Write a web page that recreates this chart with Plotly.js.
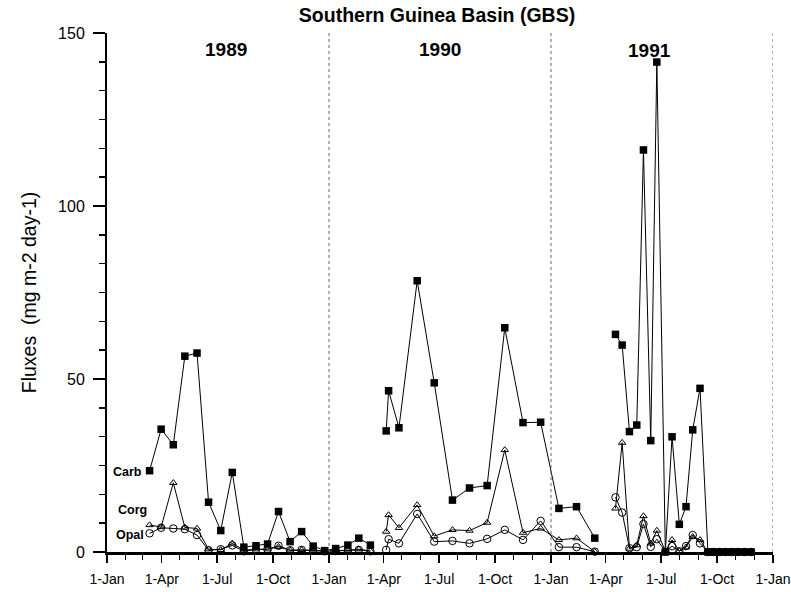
<!DOCTYPE html>
<html>
<head>
<meta charset="utf-8">
<script src="https://cdn.plot.ly/plotly-3.0.1.min.js"></script>
<style>html,body{margin:0;padding:0;background:#fff;}#chart{width:791px;height:592px;}</style>
</head>
<body>
<div id="chart"></div>
<script>
// Sampling dates (null rows break the line between deployments)
const dates = [
  '1989-03-12','1989-03-31','1989-04-20','1989-05-09','1989-05-29','1989-06-17','1989-07-07','1989-07-26',
  '1989-08-14','1989-09-03','1989-09-22','1989-10-10','1989-10-29','1989-11-17','1989-12-06','1989-12-25',
  '1990-01-12','1990-02-01','1990-02-19','1990-03-10',
  '1990-03-22',
  '1990-04-05','1990-04-09','1990-04-26','1990-05-26','1990-06-23','1990-07-23','1990-08-20','1990-09-18',
  '1990-10-17','1990-11-16','1990-12-15','1991-01-14','1991-02-12','1991-03-14',
  '1991-03-30',
  '1991-04-17','1991-04-28','1991-05-10','1991-05-22','1991-06-02','1991-06-14','1991-06-24','1991-07-08',
  '1991-07-19','1991-07-31','1991-08-11','1991-08-22','1991-09-03','1991-09-16','1991-09-25','1991-10-05',
  '1991-10-15','1991-10-25','1991-11-04','1991-11-15','1991-11-26'
];
const carb = [
  23.5,35.5,31,56.6,57.5,14.4,6.2,23,
  1.4,1.8,2.3,11.7,3.0,5.9,1.7,0.4,
  1.0,2.0,4.0,2.0,
  null,
  35,46.6,35.9,78.4,48.9,15,18.5,19.2,
  64.8,37.4,37.5,12.6,13.1,4.0,
  null,
  62.9,59.8,34.8,36.7,116.2,32.2,141.6,0,
  33.3,8.0,13.1,35.3,47.3,0,0,0,
  0,0,0,0,0
];
const corg = [
  7.8,7.2,20.0,7.1,6.8,0.8,0.6,2.5,
  0.5,0.8,0.8,1.5,0.5,0.6,0.5,0.3,
  0.3,0.5,0.8,0.3,
  null,
  5.9,10.7,7.0,13.6,4.6,6.4,6.2,8.5,
  29.5,5.6,6.8,3.5,4.0,0.1,
  null,
  12.6,31.6,1.0,2.0,10.4,2.5,6.2,0.2,
  3.5,0.3,1.4,4.4,3.5,0,0,0,
  0,0,0,0,0
];
const opal = [
  5.4,7.0,6.8,6.6,4.9,0.5,0.8,1.9,
  0.2,0.7,0.8,1.8,0.5,0.6,0.4,0.2,
  0.3,0.4,0.6,0.2,
  null,
  0.6,3.7,2.5,11.0,3.0,3.2,2.5,3.8,
  6.4,3.5,9.0,1.4,1.4,0.1,
  null,
  15.8,11.4,1.1,1.4,8.1,1.5,3.7,0.1,
  1.7,0.2,1.7,4.9,2.5,0,0,0,
  0,0,0,0,0
];
const seriesNames = ['Carb','Corg','Opal'];
const yearLabels = ['1989','1990','1991'];
const yearBounds = ['1990-01-01','1991-01-01','1992-01-01'];

const FONT = 'Arial, "Liberation Sans", sans-serif';
const line = {color:'#000', width:1};

const traces = [
  {x:dates, y:opal, name:seriesNames[2], mode:'lines+markers', line:line, cliponaxis:false,
   marker:{symbol:'circle-open', size:7.5, color:'#000', line:{width:1}}},
  {x:dates, y:corg, name:seriesNames[1], mode:'lines+markers', line:line, cliponaxis:false,
   marker:{symbol:'triangle-up-open', size:6.5, color:'#000', line:{width:1}}},
  {x:dates, y:carb, name:seriesNames[0], mode:'lines+markers', line:line, cliponaxis:false,
   marker:{symbol:'square', size:7.5, color:'#000'}}
];

const shapes = yearBounds.map(d => ({
  type:'line', xref:'x', yref:'paper', x0:d, x1:d, y0:0, y1:1,
  line:{color:'#666', width:1, dash:'dot'}
}));

const yearFont = {family:FONT, size:19, color:'#000'};
const lblFont = {family:FONT, size:12.5, color:'#000'};
const annotations = [
  {text:'<b>'+yearLabels[0]+'</b>', xref:'paper', yref:'paper', x:(226-107)/666, y:(552-50)/519, xanchor:'center', yanchor:'middle', showarrow:false, font:yearFont},
  {text:'<b>'+yearLabels[1]+'</b>', xref:'paper', yref:'paper', x:(440-107)/666, y:(552-50)/519, xanchor:'center', yanchor:'middle', showarrow:false, font:yearFont},
  {text:'<b>'+yearLabels[2]+'</b>', xref:'paper', yref:'paper', x:(649-107)/666, y:(552-51)/519, xanchor:'center', yanchor:'middle', showarrow:false, font:yearFont},
  {text:'<b>'+seriesNames[0]+'</b>', xref:'paper', yref:'paper', x:(127.5-107)/666, y:(552-472)/519, xanchor:'center', yanchor:'middle', showarrow:false, font:lblFont},
  {text:'<b>'+seriesNames[1]+'</b>', xref:'paper', yref:'paper', x:(132-107)/666, y:(552-510)/519, xanchor:'center', yanchor:'middle', showarrow:false, font:lblFont},
  {text:'<b>'+seriesNames[2]+'</b>', xref:'paper', yref:'paper', x:(129.5-107)/666, y:(552-535)/519, xanchor:'center', yanchor:'middle', showarrow:false, font:lblFont}
];

const layout = {
  width:791, height:592,
  margin:{l:107, r:18, t:33, b:40},
  paper_bgcolor:'#fff', plot_bgcolor:'#fff',
  showlegend:false,
  font:{family:FONT, color:'#000'},
  title:{text:'<b>Southern Guinea Basin (GBS)</b>', x:437/791, xanchor:'center', y:1-15/592, yanchor:'middle', yref:'container',
         font:{family:FONT, size:19.5, color:'#000'}},
  xaxis:{
    type:'date', range:['1989-01-01','1992-01-01'],
    tick0:'1989-01-01', dtick:'M3', tickformat:'%-d-%b',
    ticks:'outside', ticklen:8, tickwidth:1.5, tickcolor:'#000',
    minor:{dtick:'M1', tick0:'1989-01-01', ticks:'outside', ticklen:5, tickwidth:1, tickcolor:'#000'},
    showline:true, linecolor:'#000', linewidth:2.5,
    showgrid:false, zeroline:false,
    tickfont:{family:FONT, size:14, color:'#000'},
    ticklabelstandoff:5
  },
  yaxis:{
    range:[0,150], tick0:0, dtick:50,
    ticks:'outside', ticklen:12, tickwidth:2, tickcolor:'#000',
    minor:{dtick:50/6, tick0:0, ticks:'outside', ticklen:6, tickwidth:1.5, tickcolor:'#000'},
    showline:true, linecolor:'#000', linewidth:2,
    showgrid:false, zeroline:false,
    tickfont:{family:FONT, size:16, color:'#000'},
    ticklabelstandoff:5,
    title:{text:'Fluxes  (mg m-2 day-1)', font:{family:FONT, size:19.5, color:'#000'}, standoff:16}
  },
  shapes:shapes,
  annotations:annotations
};

Plotly.newPlot('chart', traces, layout, {displayModeBar:false, staticPlot:true});
</script>
</body>
</html>
